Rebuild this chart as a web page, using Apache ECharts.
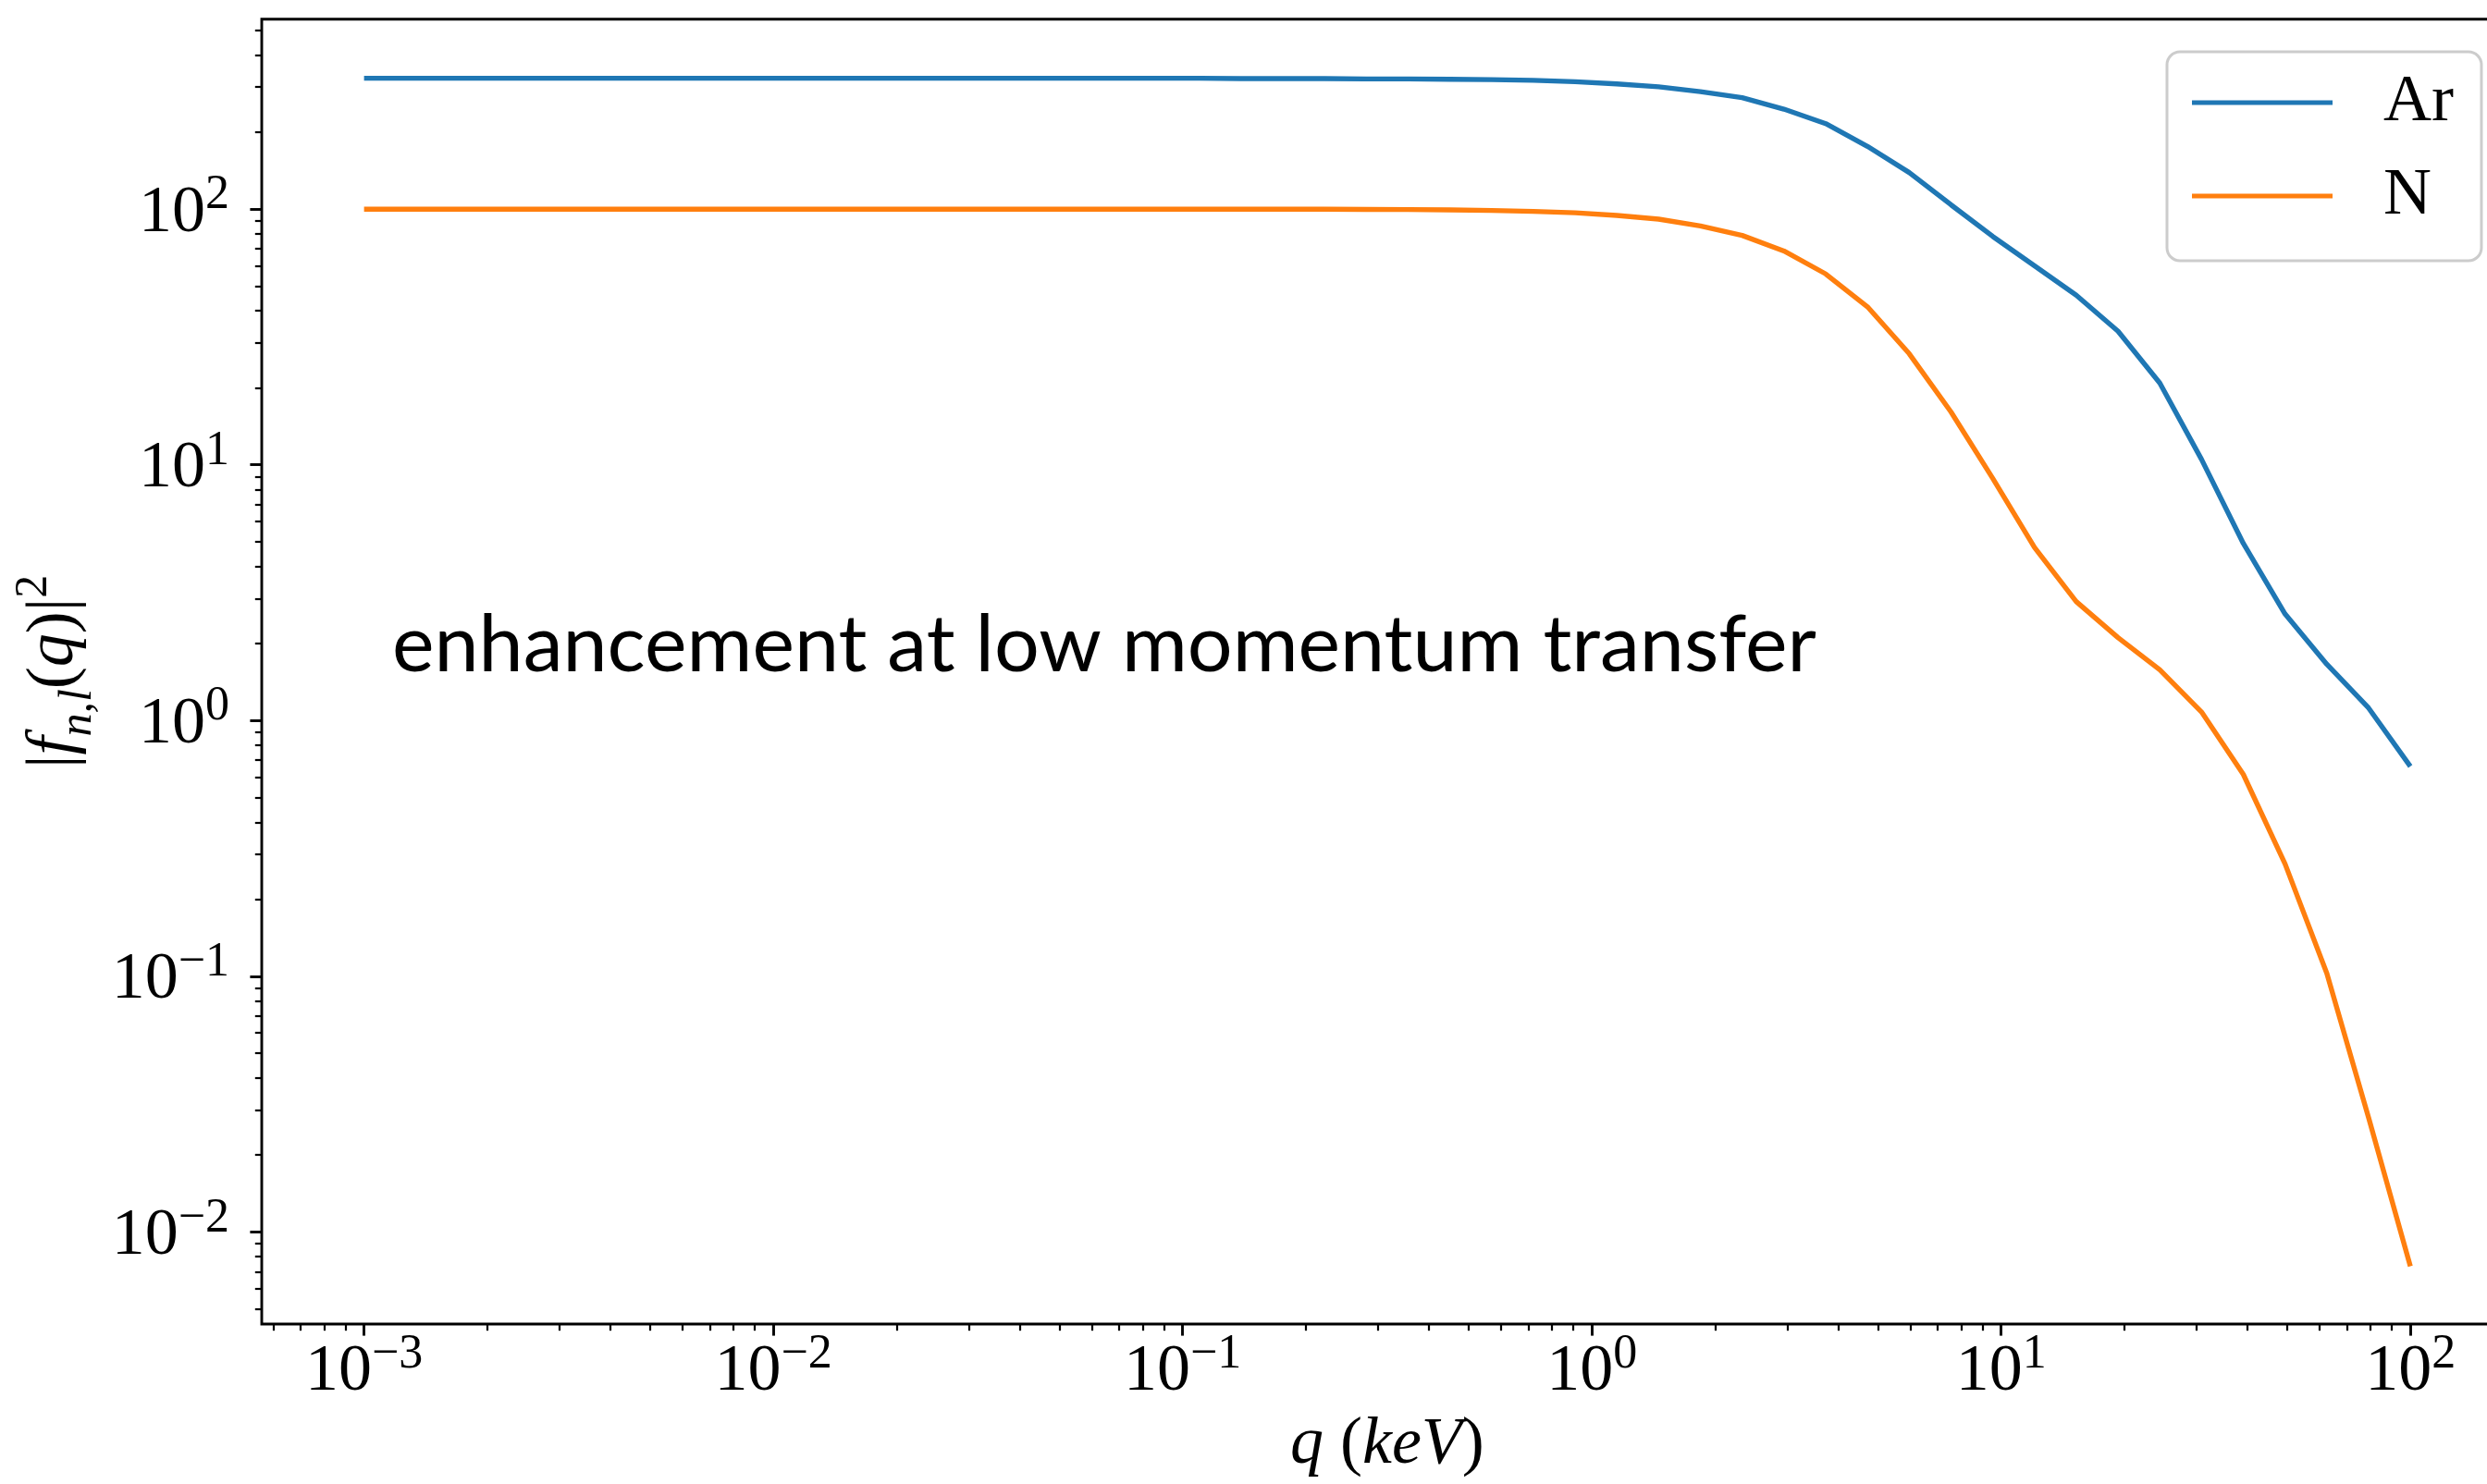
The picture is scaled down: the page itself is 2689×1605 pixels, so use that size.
<!DOCTYPE html>
<html>
<head>
<meta charset="utf-8">
<script src="https://cdn.jsdelivr.net/npm/echarts@6.0.0/dist/echarts.min.js"></script>
<style>
  html, body { margin: 0; padding: 0; background: #fff; }
  #chart { width: 2689px; height: 1605px; }
</style>
</head>
<body>
<div id="chart"></div>
<script>
// momentum transfer q (keV), log spaced sample points
const q = [0.001, 0.001265, 0.0016, 0.002024, 0.00256, 0.003237, 0.004095, 0.005179, 0.006551, 0.008286,
  0.01048, 0.01326, 0.01677, 0.02121, 0.02683, 0.03393, 0.04292, 0.05429, 0.06866, 0.08685,
  0.1099, 0.1389, 0.1758, 0.2223, 0.2812, 0.3556, 0.4498, 0.569, 0.7197, 0.9103,
  1.151, 1.456, 1.842, 2.33, 2.947, 3.728, 4.715, 5.964, 7.543, 9.541,
  12.07, 15.26, 19.31, 24.42, 30.89, 39.07, 49.42, 62.51, 79.06, 100];

// |f_{n,l}(q)|^2 for each element
const ar = [325, 325, 325, 325, 325, 325, 325, 325, 325, 325,
  325, 325, 325, 325, 325, 325, 325, 325, 325, 325,
  325, 324, 324, 324, 323, 323, 322, 321, 319, 315,
  309, 301, 288, 273, 246, 216, 176, 139, 104, 78.2,
  60, 46.1, 33.3, 20.9, 10.5, 4.93, 2.61, 1.66, 1.12, 0.662];
const nitrogen = [100, 100, 100, 100, 100, 100, 100, 100, 100, 100,
  100, 100, 100, 100, 100, 100, 100, 100, 100, 100,
  100, 100, 100, 99.9, 99.8, 99.6, 99.3, 98.8, 98.0, 96.8,
  94.5, 91.4, 85.9, 78.9, 68.6, 55.8, 41.5, 27.2, 16.1, 8.85,
  4.75, 2.92, 2.11, 1.58, 1.08, 0.616, 0.275, 0.1026, 0.028, 0.00734];

const names = ['Ar', 'N'];
const colors = ['#1f77b4', '#ff7f0e'];
const xMajor = [0.001, 0.01, 0.1, 1, 10, 100];
const yMajor = [0.01, 0.1, 1, 10, 100];
const note = 'enhancement at low momentum transfer';

const SERIF = '"Liberation Serif", "DejaVu Serif", serif';
const xMin = Math.pow(10, -3.25), xMax = Math.pow(10, 2.25);
const yMin = Math.pow(10, -2.36), yMax = Math.pow(10, 2.743);

function minorTicks(majors, lo, hi) {
  let out = [];
  [majors[0] / 10].concat(majors).forEach(d => {
    for (let m = 2; m <= 9; m++) {
      let v = d * m;
      if (v > lo && v < hi) out.push(v);
    }
  });
  return out;
}

function powLabel(v) {
  let e = Math.round(Math.log10(v));
  return '{b|10}{s|' + (e < 0 ? '\u2212' + (-e) : e) + '}';
}

const labelRich = {
  b: { fontFamily: SERIF, fontSize: 72, color: '#000', verticalAlign: 'bottom' },
  s: { fontFamily: SERIF, fontSize: 52, color: '#000', verticalAlign: 'bottom', padding: [0, 0, 29, 0] }
};

const titleRich = {
  r: { fontFamily: SERIF, fontSize: 72, color: '#000', verticalAlign: 'bottom', padding: [0, 0, 15, 0] },
  i: { fontFamily: SERIF, fontSize: 72, fontStyle: 'italic', color: '#000', verticalAlign: 'bottom', padding: [0, 0, 15, 0] },
  sub: { fontFamily: SERIF, fontSize: 50, fontStyle: 'italic', color: '#000', verticalAlign: 'bottom' },
  sup: { fontFamily: SERIF, fontSize: 50, color: '#000', verticalAlign: 'bottom', padding: [0, 0, 48, 0] }
};

function mainAxis(extra) {
  return Object.assign({
    type: 'log',
    logBase: 10,
    axisLine: { show: false },
    splitLine: { show: false },
    minorTick: { show: false },
    minorSplitLine: { show: false }
  }, extra);
}

// fit annotation font to the width it has in the figure
const ctx = document.createElement('canvas').getContext('2d');
ctx.font = '100px Lato';
const noteSize = 100 * 1541 / ctx.measureText(note).width;
ctx.font = noteSize + 'px Lato';
ctx.textBaseline = 'middle';
let mid = ctx.measureText('x').alphabeticBaseline;
mid = (mid == undefined || isNaN(mid)) ? noteSize * 0.35 : Math.abs(mid);

let chart = echarts.init(document.getElementById('chart'));
let option = {
  animation: false,
  backgroundColor: '#fff',
  grid: {
    left: 283, top: 20.7, right: -27.75, bottom: 173,
    containLabel: false,
    outerBoundsMode: 'none',
    show: true,
    borderColor: '#000',
    borderWidth: 2.9,
    backgroundColor: 'rgba(0,0,0,0)'
  },
  legend: {
    data: names,
    orient: 'vertical',
    left: 2343,
    top: 56,
    icon: 'rect',
    itemWidth: 152,
    itemHeight: 5,
    itemGap: 29,
    padding: [19, 30, 34, 27],
    borderColor: '#cccccc',
    borderWidth: 3,
    borderRadius: 14,
    backgroundColor: '#fff',
    textStyle: { fontFamily: SERIF, fontSize: 72, color: '#000', padding: [0, 0, 0, 50] }
  },
  xAxis: [
    mainAxis({
      min: xMin, max: xMax, position: 'bottom',
      axisTick: { show: true, customValues: xMajor, length: 12.6, lineStyle: { color: '#000', width: 2.9 } },
      axisLabel: { show: true, customValues: xMajor, formatter: powLabel, margin: 7, rich: labelRich },
      name: '{i|q}{r| (}{i|keV}{r|)}',
      nameLocation: 'middle',
      nameGap: 95,
      nameTextStyle: { rich: titleRich }
    }),
    mainAxis({
      min: xMin, max: xMax, position: 'bottom',
      axisTick: { show: true, customValues: minorTicks(xMajor, xMin, xMax), length: 7.2, lineStyle: { color: '#000', width: 2.2 } },
      axisLabel: { show: false }
    })
  ],
  yAxis: [
    mainAxis({
      min: yMin, max: yMax, position: 'left',
      axisTick: { show: true, customValues: yMajor, length: 12.6, lineStyle: { color: '#000', width: 2.9 } },
      axisLabel: { show: true, customValues: yMajor, formatter: powLabel, margin: 35, rich: labelRich },
      name: '{r||}{i|f}{sub|n,l}{r|(}{i|q}{r|)|}{sup|2}',
      nameLocation: 'middle',
      nameRotate: 90,
      nameGap: 154,
      nameTextStyle: { rich: titleRich }
    }),
    mainAxis({
      min: yMin, max: yMax, position: 'left',
      axisTick: { show: true, customValues: minorTicks(yMajor, yMin, yMax), length: 7.2, lineStyle: { color: '#000', width: 2.2 } },
      axisLabel: { show: false }
    })
  ],
  series: [ar, nitrogen].map((vals, k) => ({
    name: names[k],
    type: 'line',
    xAxisIndex: 0,
    yAxisIndex: 0,
    data: q.map((x, i) => [x, vals[i]]),
    symbol: 'none',
    lineStyle: { width: 5.4, color: colors[k] },
    itemStyle: { color: colors[k] },
    z: 3
  })),
  graphic: [{
    type: 'text',
    x: 424,
    y: 726 - mid,
    style: {
      text: note,
      font: noteSize.toFixed(1) + 'px Lato',
      fill: '#000',
      align: 'left',
      verticalAlign: 'middle'
    }
  }]
};
chart.setOption(option);
</script>
</body>
</html>
